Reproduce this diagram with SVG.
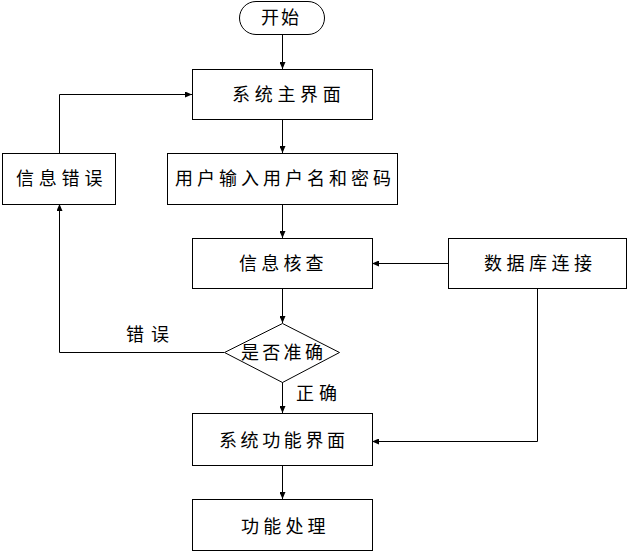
<svg xmlns="http://www.w3.org/2000/svg" width="629" height="553" viewBox="0 0 629 553">
<style>
.box{fill:#fff;stroke:#000;stroke-width:1}
.t{font-family:"Noto Sans CJK SC","Noto Sans",sans-serif;font-size:18px;fill:#000;letter-spacing:4.3px}
.c{fill:none;stroke:#000;stroke-width:1}
</style>
<defs>
<marker id="ah" viewBox="0 0 7 6" refX="7" refY="3" markerWidth="7" markerHeight="6" markerUnits="userSpaceOnUse" orient="auto">
<path d="M0,0 L7,3 L0,6 z" fill="#000"/>
</marker>
</defs>
<rect width="629" height="553" fill="#fff"/>
<g id="connectors">
<path class="c" d="M282.5,34 V69" marker-end="url(#ah)"/>
<path class="c" d="M282.5,119 V153" marker-end="url(#ah)"/>
<path class="c" d="M282.5,204 V238" marker-end="url(#ah)"/>
<path class="c" d="M282.5,288 V323" marker-end="url(#ah)"/>
<path class="c" d="M282.5,382 V413" marker-end="url(#ah)"/>
<path class="c" d="M282.5,465 V499" marker-end="url(#ah)"/>
<path class="c" d="M448,263.5 H372" marker-end="url(#ah)"/>
<path class="c" d="M537.5,288 V441.5 H372" marker-end="url(#ah)"/>
<path class="c" d="M224,352.5 H59.5 V204" marker-end="url(#ah)"/>
<path class="c" d="M59.5,153 V94.5 H192" marker-end="url(#ah)"/>
<text class="t" x="126" y="341" style="letter-spacing:7px">错误</text>
<text class="t" x="296" y="400" style="letter-spacing:5px">正确</text>
</g>
<g id="start">
<rect class="box" x="239.5" y="1.5" width="85" height="33" rx="16.5"/>
<text class="t" x="261" y="24" style="letter-spacing:2px">开始</text>
</g>
<g id="main">
<rect class="box" x="192.5" y="69.5" width="180" height="50"/>
<text class="t" x="232" y="100.5" style="letter-spacing:4.7px">系统主界面</text>
</g>
<g id="error">
<rect class="box" x="2.5" y="153.5" width="113" height="51"/>
<text class="t" x="16" y="184.5" style="letter-spacing:4.8px">信息错误</text>
</g>
<g id="input">
<rect class="box" x="167.5" y="153.5" width="230" height="51"/>
<text class="t" x="175" y="184.5" style="letter-spacing:4px">用户输入用户名和密码</text>
</g>
<g id="check">
<rect class="box" x="192.5" y="238.5" width="180" height="50"/>
<text class="t" x="239" y="269.5" style="letter-spacing:4.2px">信息核查</text>
</g>
<g id="db">
<rect class="box" x="448.5" y="238.5" width="178" height="50"/>
<text class="t" x="484" y="269.5" style="letter-spacing:4.5px">数据库连接</text>
</g>
<g id="decision">
<polygon class="box" points="282.5,323.5 339.5,352.5 282.5,382.5 224.5,352.5"/>
<text class="t" x="241" y="358.5" style="letter-spacing:3.3px">是否准确</text>
</g>
<g id="func">
<rect class="box" x="192.5" y="413.5" width="180" height="52"/>
<text class="t" x="219" y="446.5" style="letter-spacing:3.6px">系统功能界面</text>
</g>
<g id="proc">
<rect class="box" x="192.5" y="499.5" width="180" height="51"/>
<text class="t" x="241" y="532.5" style="letter-spacing:4.2px">功能处理</text>
</g>
</svg>
